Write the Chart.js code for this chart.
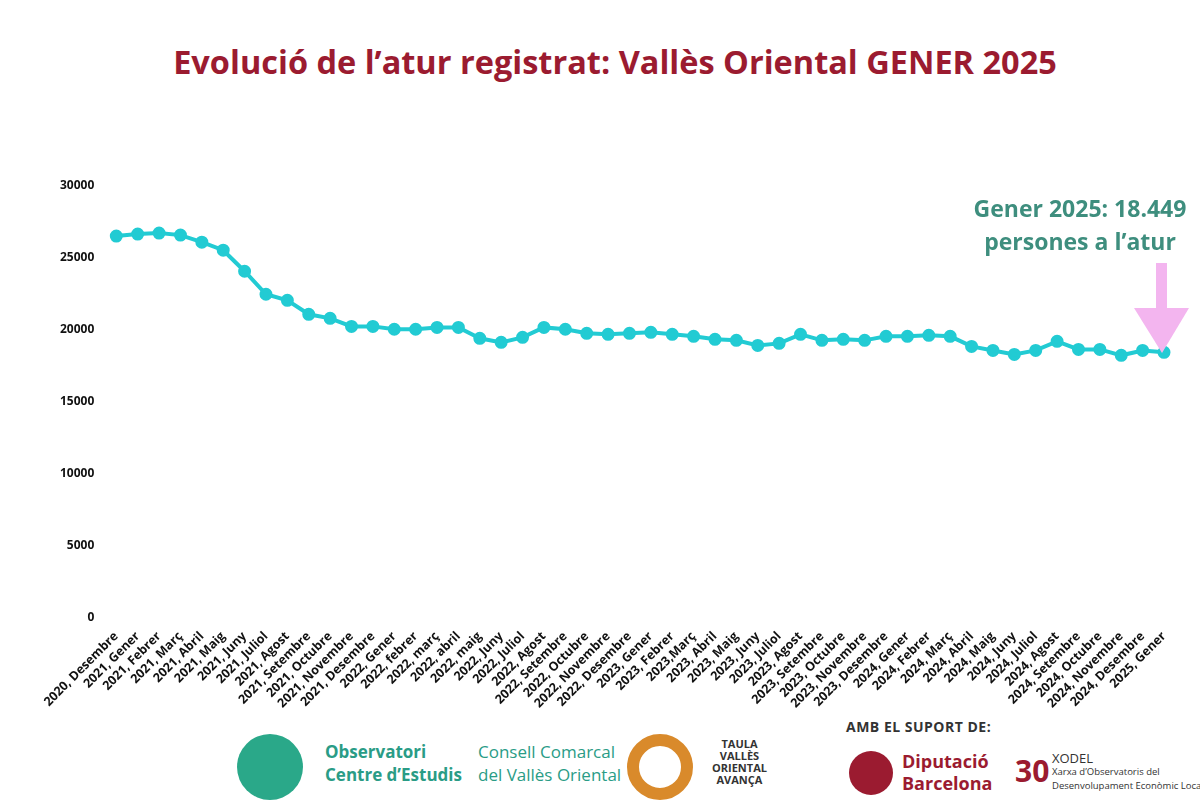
<!DOCTYPE html>
<html><head><meta charset="utf-8">
<script src="https://cdn.jsdelivr.net/npm/chart.js@4"></script>
<style>
body{margin:0;width:1200px;height:800px;background:#fff;font-family:"Open Sans",sans-serif;position:relative;overflow:hidden}
#wrap{position:absolute;left:0;top:0;width:1200px;height:714px}
.t{position:absolute;white-space:nowrap}
</style></head><body>
<div class="t" style="left:0;width:1230px;text-align:center;top:39px;font-size:32.5px;font-weight:700;color:#9B1B30">Evolució de l’atur registrat: Vallès Oriental GENER 2025</div>
<div id="wrap"><canvas id="c"></canvas></div>
<div class="t" style="left:965px;width:230px;text-align:center;top:192px;font-size:23px;font-weight:700;color:#3E8E7E;line-height:33px">Gener 2025: 18.449<br>persones a l’atur</div>
<svg class="t" style="left:1134px;top:263px" width="56" height="92"><rect x="22" y="0" width="11" height="46" fill="#F3B5EF"/><polygon points="0,45 55,45 28,90" fill="#F3B5EF"/></svg>
<div class="t" style="left:846px;top:717px;font-size:14px;font-weight:700;color:#333;letter-spacing:0.5px">AMB EL SUPORT DE:</div>
<svg class="t" style="left:236px;top:733px" width="68" height="68"><circle cx="34" cy="34" r="33" fill="#2AA889"/></svg>
<div class="t" style="left:325px;top:740px;font-size:17px;font-weight:700;color:#2A9C86;line-height:23px">Observatori<br>Centre d’Estudis</div>
<div class="t" style="left:478px;top:740px;font-size:17px;color:#2A9C86;line-height:23px">Consell Comarcal<br>del Vallès Oriental</div>
<svg class="t" style="left:626px;top:733px" width="68" height="68"><circle cx="34" cy="34" r="27" fill="none" stroke="#D98A2B" stroke-width="12"/></svg>
<div class="t" style="left:712px;top:738px;font-size:11px;font-weight:700;color:#333;line-height:12px;text-align:center">TAULA<br>VALLÈS<br>ORIENTAL<br>AVANÇA</div>
<svg class="t" style="left:848px;top:750px" width="46" height="46"><circle cx="23" cy="23" r="22" fill="#9B1B30"/></svg>
<div class="t" style="left:902px;top:750px;font-size:18px;font-weight:700;color:#9B1B30;line-height:22px">Diputació<br>Barcelona</div>
<div class="t" style="left:1015px;top:750px;font-size:30px;font-weight:700;color:#9B1B30">30</div>
<div class="t" style="left:1052px;top:752px;font-size:13px;color:#333;line-height:12px">XODEL<br><span style="font-size:9.5px">Xarxa d’Observatoris del<br>Desenvolupament Econòmic Local</span></div>
<script>
const categories=["2020, Desembre","2021, Gener","2021, Febrer","2021, Març","2021, Abril","2021, Maig","2021, Juny","2021, Juliol","2021, Agost","2021, Setembre","2021, Octubre","2021, Novembre","2021, Desembre","2022, Gener","2022, febrer","2022, març","2022, abril","2022, maig","2022, Juny","2022, Juliol","2022, Agost","2022, Setembre","2022, Octubre","2022, Novembre","2022, Desembre","2023, Gener","2023, Febrer","2023,Març","2023, Abril","2023, Maig","2023, Juny","2023, Juliol","2023, Agost","2023, Setembre","2023, Octubre","2023, Novembre","2023, Desembre","2024, Gener","2024, Febrer","2024, Març","2024, Abril","2024, Maig","2024, Juny","2024, Juliol","2024, Agost","2024, Setembre","2024, Octubre","2024, Novembre","2024, Desembre","2025, Gener"];
const aturats=[26520,26660,26730,26590,26100,25540,24080,22480,22060,21090,20810,20250,20250,20050,20050,20180,20180,19420,19140,19490,20180,20050,19770,19700,19770,19840,19700,19560,19350,19280,18930,19070,19700,19280,19350,19280,19560,19560,19630,19560,18860,18580,18300,18580,19210,18650,18650,18240,18580,18449];
const yTicks=[0,5000,10000,15000,20000,25000,30000];
new Chart(document.getElementById('c'),{type:'line',
data:{labels:categories,datasets:[{data:aturats,borderColor:'#22CBD3',backgroundColor:'#22CBD3',borderWidth:4,pointRadius:4.5,pointHoverRadius:4.5,tension:0}]},
options:{responsive:true,maintainAspectRatio:false,animation:false,
layout:{padding:{top:186,left:46,right:36,bottom:0}},
plugins:{legend:{display:false},tooltip:{enabled:false}},
scales:{
x:{grid:{display:false},border:{display:false},ticks:{autoSkip:false,maxRotation:45,minRotation:45,color:'#111',font:{family:'Open Sans',size:12.5,weight:'bold'}}},
y:{min:0,max:30000,afterBuildTicks:s=>{s.ticks=yTicks.map(v=>({value:v}));},grid:{display:false},border:{display:false},ticks:{padding:14,color:'#111',callback:v=>String(v),font:{family:'Open Sans',size:12,weight:'bold'}}}
}}});
</script></body></html>
